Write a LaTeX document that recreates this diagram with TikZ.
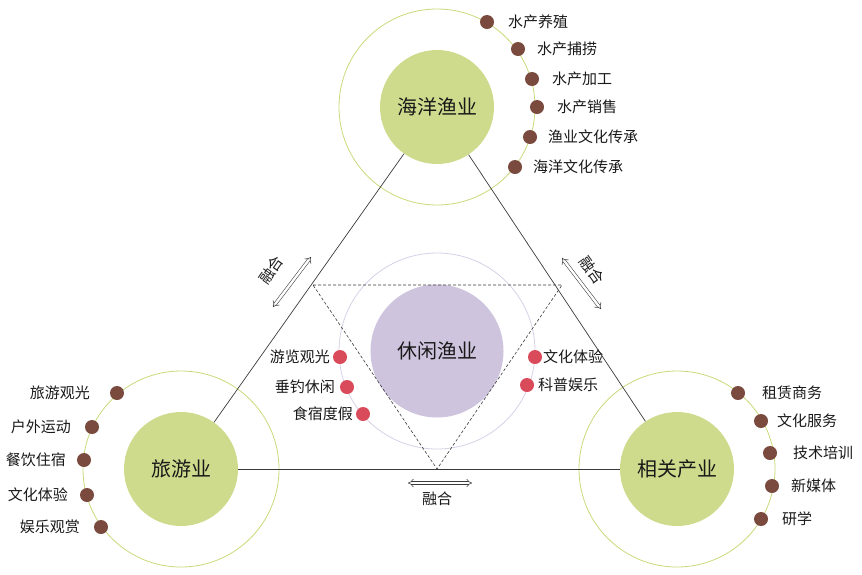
\documentclass[tikz,border=0pt]{standalone}
\usepackage{fontspec}
\setmainfont{Noto Sans CJK SC}
\usetikzlibrary{arrows.meta}
\definecolor{hubgreen}{HTML}{CFDB8C}
\definecolor{ringgreen}{HTML}{C8DA7A}
\definecolor{dotbrown}{HTML}{7A4A3F}
\definecolor{dotred}{HTML}{D94A5A}
\definecolor{corepurple}{HTML}{CFC4DE}
\definecolor{ringpurple}{HTML}{D8D0E6}
\definecolor{inkgray}{HTML}{3A3A3A}
\begin{document}
\begin{tikzpicture}[x=1pt,y=-1pt,
  hub/.style={circle, fill=hubgreen, minimum size=114pt, inner sep=0pt, text=black!90, font=\fontsize{20}{24}\selectfont},
  core/.style={circle, fill=corepurple, minimum size=133pt, inner sep=0pt, text=black!90, font=\fontsize{20}{24}\selectfont},
  ring/.style={circle, draw=ringgreen, line width=0.8pt, minimum size=196pt, inner sep=0pt},
  corering/.style={circle, draw=ringpurple, line width=0.8pt, minimum size=196pt, inner sep=0pt},
  bdot/.style={circle, fill=dotbrown, minimum size=14pt, inner sep=0pt},
  rdot/.style={circle, fill=dotred, minimum size=14pt, inner sep=0pt},
  lab/.style={inner sep=0pt, text=black!90, font=\fontsize{15}{18}\selectfont},
  link/.style={draw=inkgray, line width=0.7pt},
  fuse/.style={draw=inkgray, line width=0.55pt, double=white, double distance=2.4pt, {Implies}-{Implies}}]
\useasboundingbox (0,0) rectangle (862,574);
% outer rings
\node[ring] (fishring) at (437,107){};
\node[ring] (tourring) at (181,469){};
\node[ring] (relring) at (677,469){};
\node[corering] (leisring) at (437,351){};
% hubs
\node[hub] (fish) at (437,107){海洋渔业};
\node[hub] (tour) at (181,469){旅游业};
\node[hub] (rel) at (677,469){相关产业};
\node[core] (leis) at (437,351){休闲渔业};
\draw[link](fish) -- (tour);
\draw[link](fish) -- (rel);
\draw[link](tour) -- (rel);
% dashed triangle
\coordinate (tl) at (313,285);
\coordinate (tr) at (562,285);
\coordinate (tb) at (437,469);
\draw[inkgray, line width=0.6pt, dash pattern=on 3pt off 2pt](tl) -- (tr) -- (tb) -- cycle;
% fusion arrows
\coordinate (fa1) at (311,257);
\coordinate (fa2) at (273,307);
\draw[fuse](fa1) -- (fa2);
\node[lab, rotate=54.7] (fl1) at (271,270){融合};
\coordinate (fb1) at (562,258);
\coordinate (fb2) at (601,309);
\draw[fuse](fb1) -- (fb2);
\node[lab, rotate=-54.7] (fl2) at (592,270){融合};
\coordinate (fc1) at (408,483);
\coordinate (fc2) at (472,483);
\draw[fuse](fc1) -- (fc2);
\node[lab] (fl3) at (437,499){融合};
% fishery dots
\node[bdot] (fd1) at (487,22){};
\node[lab, anchor=west] (ft1) at (508,22){水产养殖};
\node[bdot] (fd2) at (518,49){};
\node[lab, anchor=west] (ft2) at (537,49){水产捕捞};
\node[bdot] (fd3) at (532,79){};
\node[lab, anchor=west] (ft3) at (552,79){水产加工};
\node[bdot] (fd4) at (537,107){};
\node[lab, anchor=west] (ft4) at (557,107){水产销售};
\node[bdot] (fd5) at (530,137){};
\node[lab, anchor=west] (ft5) at (548,137){渔业文化传承};
\node[bdot] (fd6) at (515,167){};
\node[lab, anchor=west] (ft6) at (533,167){海洋文化传承};
% tourism dots
\node[bdot] (td1) at (117,393){};
\node[lab, anchor=east] (tt1) at (90,393){旅游观光};
\node[bdot] (td2) at (92,427){};
\node[lab, anchor=east] (tt2) at (71,427){户外运动};
\node[bdot] (td3) at (84,460){};
\node[lab, anchor=east] (tt3) at (66,460){餐饮住宿};
\node[bdot] (td4) at (87,495){};
\node[lab, anchor=east] (tt4) at (68,495){文化体验};
\node[bdot] (td5) at (101,527){};
\node[lab, anchor=east] (tt5) at (80,527){娱乐观赏};
% related dots
\node[bdot] (rd1) at (738,393){};
\node[lab, anchor=west] (rt1) at (762,393){租赁商务};
\node[bdot] (rd2) at (761,421){};
\node[lab, anchor=west] (rt2) at (777,421){文化服务};
\node[bdot] (rd3) at (770,453){};
\node[lab, anchor=west] (rt3) at (793,453){技术培训};
\node[bdot] (rd4) at (772,486){};
\node[lab, anchor=west] (rt4) at (791,486){新媒体};
\node[bdot] (rd5) at (761,519){};
\node[lab, anchor=west] (rt5) at (782,519){研学};
% leisure dots
\node[rdot] (ld1) at (340,357){};
\node[lab, anchor=east] (lt1) at (330,357){游览观光};
\node[rdot] (ld2) at (347,387){};
\node[lab, anchor=east] (lt2) at (335,387){垂钓休闲};
\node[rdot] (ld3) at (363,414){};
\node[lab, anchor=east] (lt3) at (353,414){食宿度假};
\node[rdot] (ld4) at (535,357){};
\node[lab, anchor=west] (lt4) at (543,357){文化体验};
\node[rdot] (ld5) at (527,385){};
\node[lab, anchor=west] (lt5) at (538,385){科普娱乐};
\end{tikzpicture}
\end{document}
